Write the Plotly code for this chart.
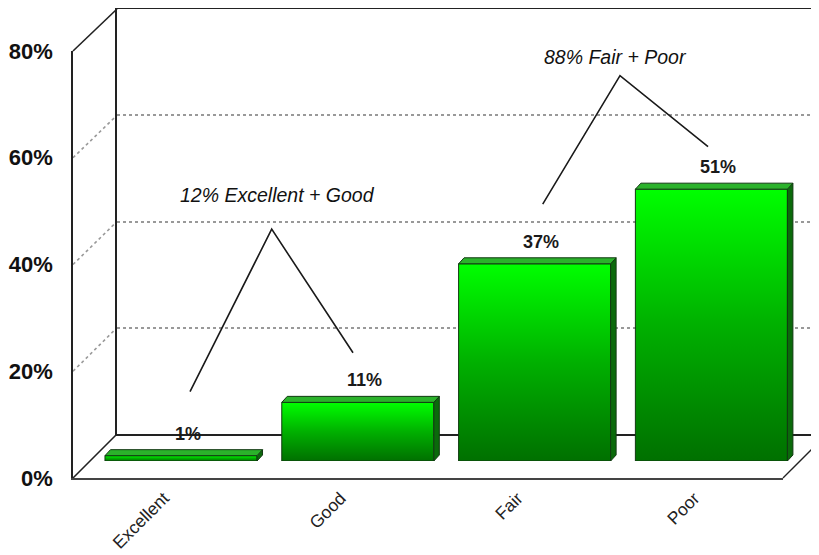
import plotly.graph_objects as go

# ---------------- data ----------------
categories = ["Excellent", "Good", "Fair", "Poor"]
values = [1, 11, 37, 51]
value_labels = ["1%", "11%", "37%", "51%"]
tick_values = [0, 20, 40, 60, 80]
tick_labels = ["0%", "20%", "40%", "60%", "80%"]
group_texts = ["12% Excellent + Good", "88% Fair + Poor"]
# annotation positions in bar-axis units (category index, percent)
group_text_pos = [(0.545, 49.9), (2.46, 75.8)]
group_brackets = [
    [(0.051, 13.0), (0.513, 43.5), (0.973, 20.3)],
    [(2.046, 48.2), (2.483, 72.3), (2.981, 59.0)],
]

# ---------------- geometry (screen pixels) ----------------
OFF = 8                      # page body margin
W, H = 819 - OFF, 555 - OFF  # figure size so it fills the window
def px(x):
    return (x - OFF) / W
def py(y):
    return 1 - (y - OFF) / H

FRONT_L, FRONT_R, FRONT_B, FRONT_T = 73, 783, 478, 51
BACK_L, BACK_B, BACK_T = 117, 434, 9
DEPTH_X, DEPTH_Y = 44, 44
BAR_ZERO, BAR_SCALE = 461, 5.33          # px of 0% and px per % in bar plane
BAR_C0, BAR_STEP = 181, 176.8            # px of first bar centre, spacing

BAR_W = 0.86
DX = 5.5 / BAR_STEP
DY = 6.0 / BAR_SCALE

font_family = "Liberation Sans, Arial, sans-serif"

fig = go.Figure()

for i, v in enumerate(values):
    x0, x1 = i - BAR_W / 2, i + BAR_W / 2
    fig.add_trace(go.Scatter(
        x=[x0, x1, x1, x0, x0], y=[0, 0, v, v, 0],
        mode="lines", fill="toself",
        fillgradient=dict(type="vertical",
                          colorscale=[[0, "#007000"], [0.5, "#00b000"], [1, "#00ff00"]]),
        line=dict(color="#123a12", width=1),
        xaxis="x3", yaxis="y3", hoverinfo="skip", showlegend=False))
    fig.add_trace(go.Scatter(
        x=[x1, x1 + DX, x1 + DX, x1, x1], y=[0, DY, v + DY, v, 0],
        mode="lines", fill="toself", fillcolor="#0b6a0b",
        line=dict(color="#123a12", width=1),
        xaxis="x3", yaxis="y3", hoverinfo="skip", showlegend=False))
    fig.add_trace(go.Scatter(
        x=[x0, x1, x1 + DX, x0 + DX, x0], y=[v, v, v + DY, v + DY, v],
        mode="lines", fill="toself", fillcolor="#2bb22b",
        line=dict(color="#123a12", width=1),
        xaxis="x3", yaxis="y3", hoverinfo="skip", showlegend=False))

fig.add_trace(go.Scatter(x=[0], y=[0], mode="markers", marker=dict(opacity=0),
                         xaxis="x", yaxis="y", hoverinfo="skip", showlegend=False))
fig.add_trace(go.Scatter(x=[0], y=[0], mode="markers", marker=dict(opacity=0),
                         xaxis="x2", yaxis="y2", hoverinfo="skip", showlegend=False))

annotations = []
for i, (v, t) in enumerate(zip(values, value_labels)):
    annotations.append(dict(
        x=i, y=v, xref="x3", yref="y3", text=t, showarrow=False,
        xshift=6.5, yshift=22, yanchor="middle",
        font=dict(family=font_family, size=18, color="#1a1a1a", weight="bold")))
for t, (gx, gy) in zip(group_texts, group_text_pos):
    annotations.append(dict(
        x=gx, y=gy, xref="x3", yref="y3", text=t, showarrow=False,
        yanchor="middle",
        font=dict(family=font_family, size=19.5, color="#111", style="italic")))

shapes = []
for br in group_brackets:
    path = "M {} {} L {} {} L {} {}".format(br[0][0], br[0][1], br[1][0], br[1][1],
                                            br[2][0], br[2][1])
    shapes.append(dict(type="path", path=path, xref="x3", yref="y3",
                       line=dict(color="#1a1a1a", width=1.6)))

def front_y(v):
    return FRONT_B - v * (FRONT_B - FRONT_T) / 80
def back_y(v):
    return BACK_B - v * (BACK_B - BACK_T) / 80
for v in tick_values:
    solid = v in (0, 80)
    shapes.append(dict(type="line", xref="paper", yref="paper", layer="below",
                       x0=px(FRONT_L), y0=py(front_y(v)),
                       x1=px(BACK_L), y1=py(back_y(v)),
                       line=dict(color="#222" if solid else "#999",
                                 width=1.6,
                                 dash="solid" if solid else "dot")))
shapes.append(dict(type="line", xref="paper", yref="paper",
                   x0=px(FRONT_R), y0=py(FRONT_B),
                   x1=px(FRONT_R + DEPTH_X), y1=py(FRONT_B - DEPTH_Y),
                   line=dict(color="#222", width=1.3)))

bar_x_domain = [px(BAR_C0 - BAR_STEP / 2), px(BAR_C0 + 3.5 * BAR_STEP)]
bar_y_domain = [py(BAR_ZERO), py(BAR_ZERO - 80 * BAR_SCALE)]

front_center0 = BAR_C0 - 17
front_x0 = -0.5 - (front_center0 - BAR_STEP / 2 - FRONT_L) / BAR_STEP

fig.update_layout(
    width=W, height=H,
    margin=dict(l=0, r=0, t=0, b=0, pad=0, autoexpand=False),
    paper_bgcolor="white", plot_bgcolor="rgba(0,0,0,0)",
    showlegend=False,
    xaxis=dict(domain=[px(BACK_L), 1], range=[0, 1], anchor="y",
               showline=True, mirror=True, linecolor="#222", linewidth=1.6,
               showgrid=False, zeroline=False, showticklabels=False, ticks=""),
    yaxis=dict(domain=[py(BACK_B), py(BACK_T)], range=[0, 80], anchor="x",
               showline=True, mirror=False, linecolor="#222", linewidth=1.6,
               tickvals=tick_values[1:-1], showticklabels=False, ticks="",
               showgrid=True, gridcolor="#999", griddash="dot", gridwidth=1.5,
               zeroline=False),
    xaxis2=dict(domain=[px(FRONT_L), px(FRONT_R)], anchor="y2",
                range=[front_x0, front_x0 + (FRONT_R - FRONT_L) / BAR_STEP],
                showline=True, linecolor="#444", linewidth=2.2,
                tickvals=list(range(len(categories))), ticktext=categories,
                tickangle=-45, ticks="outside", ticklen=1, tickcolor="rgba(0,0,0,0)",
                tickfont=dict(family=font_family, size=17.5, color="#222"),
                showgrid=False, zeroline=False, automargin=False),
    yaxis2=dict(domain=[py(FRONT_B), py(FRONT_T)], range=[0, 80], anchor="x2",
                showline=True, linecolor="#222", linewidth=1.6,
                tickvals=tick_values, ticktext=tick_labels,
                ticks="outside", ticklen=14, tickcolor="rgba(0,0,0,0)",
                tickfont=dict(family=font_family, size=22, color="#111", weight="bold"),
                showgrid=False, zeroline=False, automargin=False),
    xaxis3=dict(domain=bar_x_domain, range=[-0.5, 3.5], anchor="y3", visible=False),
    yaxis3=dict(domain=bar_y_domain, range=[0, 80], anchor="x3", visible=False),
    annotations=annotations,
    shapes=shapes,
)

fig.write_html("out.html")
